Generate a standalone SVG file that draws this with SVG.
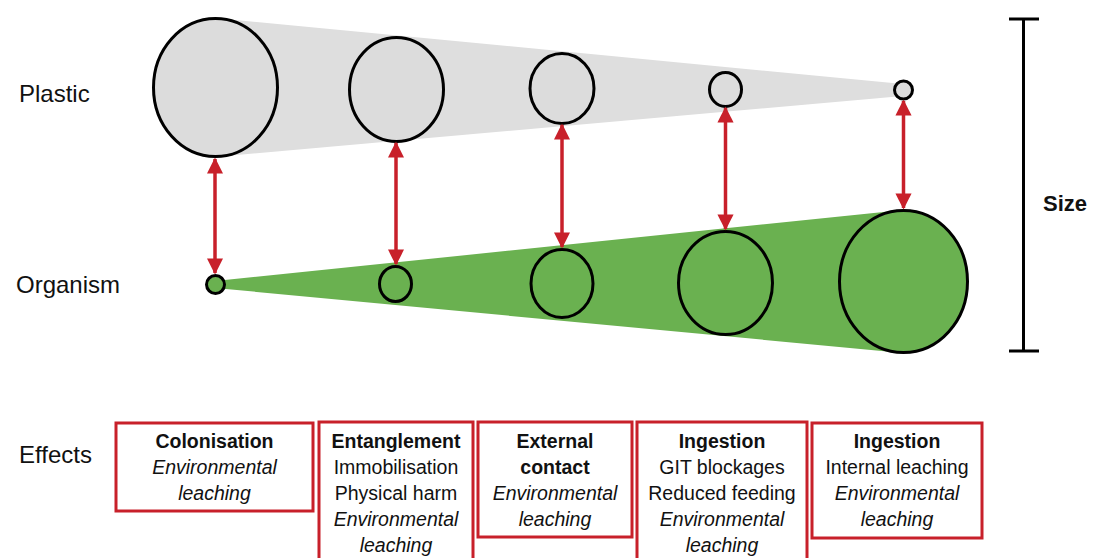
<svg xmlns="http://www.w3.org/2000/svg" width="1097" height="558" viewBox="0 0 1097 558">
<defs>
<marker id="ah" viewBox="0 0 10 10" refX="9" refY="5" markerWidth="4.8" markerHeight="4.6" markerUnits="strokeWidth" orient="auto-start-reverse">
<path d="M0,0 L10,5 L0,10 z" fill="#c8202a"/>
</marker>
<style>
.lbl{font-family:"Liberation Sans",Arial,sans-serif;font-size:24px;fill:#111}
.pc{fill:#dcdcdc;stroke:#000;stroke-width:3}
.oc{fill:#6ab150;stroke:#000;stroke-width:3}
.arr{stroke:#c8202a;stroke-width:3.5;fill:none;marker-start:url(#ah);marker-end:url(#ah)}
.box{fill:#fff;stroke:#c8202a;stroke-width:3}
.bt{font-family:"Liberation Sans",Arial,sans-serif;font-size:19.5px;fill:#111;text-anchor:middle}
.b{font-weight:bold}
.i{font-style:italic}
</style>
</defs>
<rect width="1097" height="558" fill="#fff"/>
<g id="labels">
<text class="lbl" x="19" y="102">Plastic</text>
<text class="lbl" x="16" y="293">Organism</text>
<text class="lbl" x="19" y="463">Effects</text>
</g>
<g id="plastic-cone">
<polygon points="215,18 903,84 903,96 215,157" fill="#dedede"/>
</g>
<g id="organism-cone">
<polygon points="215,281 903,210 903,353 215,288" fill="#6ab150"/>
</g>
<g id="plastic-1"><ellipse class="pc" cx="215.5" cy="87.5" rx="62" ry="69"/></g>
<g id="plastic-2"><ellipse class="pc" cx="396.5" cy="89.5" rx="47" ry="52"/></g>
<g id="plastic-3"><ellipse class="pc" cx="562" cy="88.5" rx="32" ry="35"/></g>
<g id="plastic-4"><ellipse class="pc" cx="725.5" cy="89.5" rx="16" ry="17"/></g>
<g id="plastic-5"><ellipse class="pc" cx="903.5" cy="90" rx="9" ry="9"/></g>
<g id="organism-1"><ellipse class="oc" cx="215.5" cy="284.5" rx="9" ry="9"/></g>
<g id="organism-2"><ellipse class="oc" cx="395.5" cy="284" rx="16" ry="17.5"/></g>
<g id="organism-3"><ellipse class="oc" cx="562" cy="283.5" rx="31" ry="34"/></g>
<g id="organism-4"><ellipse class="oc" cx="725.5" cy="283" rx="47" ry="51.5"/></g>
<g id="organism-5"><ellipse class="oc" cx="903.5" cy="281.5" rx="64" ry="71"/></g>
<g id="connectors">
<line class="arr" x1="215" y1="159" x2="215" y2="273"/>
<line class="arr" x1="396" y1="143" x2="396" y2="264"/>
<line class="arr" x1="562" y1="125" x2="562" y2="247"/>
<line class="arr" x1="725.5" y1="108" x2="725.5" y2="229"/>
<line class="arr" x1="903.5" y1="101" x2="903.5" y2="208"/>
</g>
<g id="size-bar">
<line x1="1023.5" y1="19" x2="1023.5" y2="351" stroke="#000" stroke-width="3"/>
<line x1="1009" y1="19" x2="1039" y2="19" stroke="#000" stroke-width="3"/>
<line x1="1009" y1="351" x2="1039" y2="351" stroke="#000" stroke-width="3"/>
<text class="lbl b" x="1043" y="211" style="font-size:22px">Size</text>
</g>
<g id="effect-1">
<rect class="box" x="116" y="423" width="197" height="88"/>
<text class="bt b" x="214.5" y="448">Colonisation</text>
<text class="bt i" x="214.5" y="474">Environmental</text>
<text class="bt i" x="214.5" y="500">leaching</text>
</g>
<g id="effect-2">
<rect class="box" x="319" y="422" width="154" height="150"/>
<text class="bt b" x="396" y="448">Entanglement</text>
<text class="bt" x="396" y="474">Immobilisation</text>
<text class="bt" x="396" y="500">Physical harm</text>
<text class="bt i" x="396" y="526">Environmental</text>
<text class="bt i" x="396" y="552">leaching</text>
</g>
<g id="effect-3">
<rect class="box" x="478" y="422" width="154" height="115"/>
<text class="bt b" x="555" y="448">External</text>
<text class="bt b" x="555" y="474">contact</text>
<text class="bt i" x="555" y="500">Environmental</text>
<text class="bt i" x="555" y="526">leaching</text>
</g>
<g id="effect-4">
<rect class="box" x="637" y="422" width="170" height="150"/>
<text class="bt b" x="722" y="448">Ingestion</text>
<text class="bt" x="722" y="474">GIT blockages</text>
<text class="bt" x="722" y="500">Reduced feeding</text>
<text class="bt i" x="722" y="526">Environmental</text>
<text class="bt i" x="722" y="552">leaching</text>
</g>
<g id="effect-5">
<rect class="box" x="812" y="423" width="170" height="115"/>
<text class="bt b" x="897" y="448">Ingestion</text>
<text class="bt" x="897" y="474">Internal leaching</text>
<text class="bt i" x="897" y="500">Environmental</text>
<text class="bt i" x="897" y="526">leaching</text>
</g>
</svg>
